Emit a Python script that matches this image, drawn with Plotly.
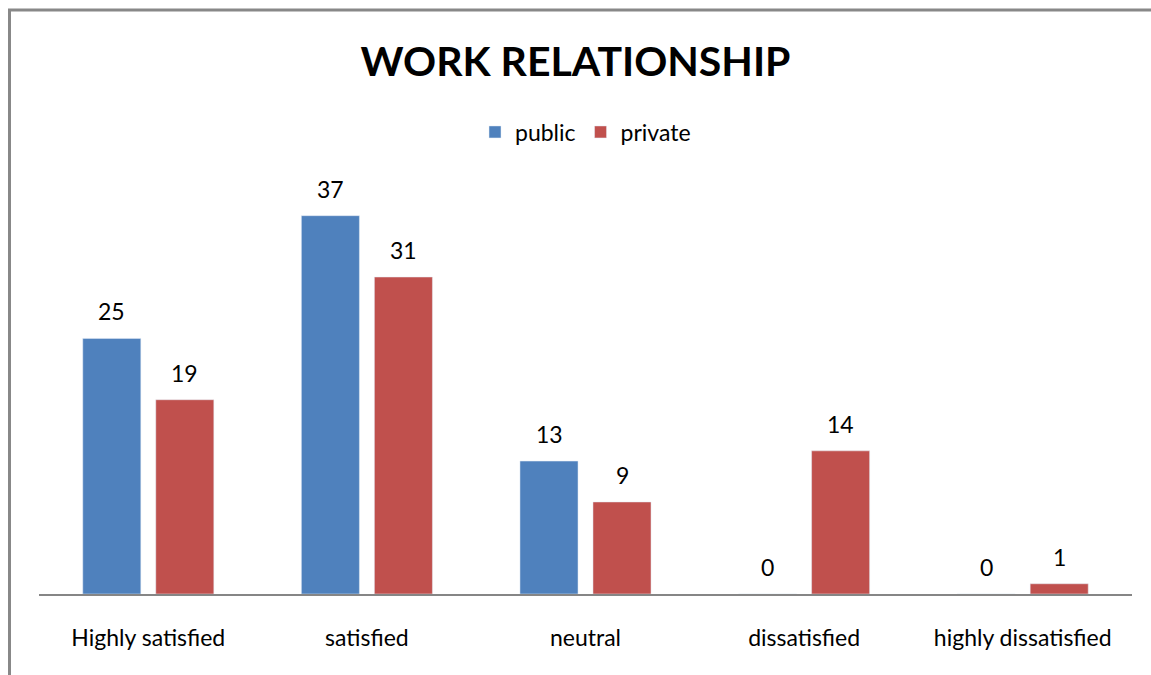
import plotly.graph_objects as go

categories = ["Highly satisfied", "satisfied", "neutral", "dissatisfied", "highly dissatisfied"]
public = [25, 37, 13, 0, 0]
private = [19, 31, 9, 14, 1]

BLUE = "#4F81BD"
RED = "#C0504D"
FONT = "Lato"
TEXT_SIZE = 23

fig = go.Figure()
fig.add_trace(go.Bar(name="public", x=categories, y=public, marker_color=BLUE))
fig.add_trace(go.Bar(name="private", x=categories, y=private, marker_color=RED))

# value labels above each bar (offset to the bar's slot within its group)
annotations = []
for series, shift in ((public, -36.5), (private, 36.5)):
    for cat, val in zip(categories, series):
        annotations.append(dict(
            x=cat, y=val, xref="x", yref="y", text=str(val), showarrow=False,
            xshift=shift, yshift=27, font=dict(family=FONT, size=TEXT_SIZE, color="#000000"),
        ))

fig.update_layout(
    width=1151, height=675,
    margin=dict(l=39, r=19, t=185, b=81),
    paper_bgcolor="white", plot_bgcolor="white",
    barmode="group", bargap=0.332, bargroupgap=0.205,
    title=dict(text="<b>WORK RELATIONSHIP</b>", x=0.5, xanchor="center",
               y=1 - 62 / 675, yanchor="middle",
               font=dict(family=FONT, size=41, color="#000000")),
    legend=dict(orientation="h", x=0.5, xanchor="center", y=(594 - 132) / 409,
                yanchor="middle", font=dict(family=FONT, size=TEXT_SIZE, color="#000000"),
                itemwidth=30, traceorder="normal"),
    annotations=annotations,
    xaxis=dict(showline=True, linecolor="#868686", linewidth=2, ticks="",
               ticklabelstandoff=22, tickfont=dict(family=FONT, size=TEXT_SIZE, color="#000000"),
               showgrid=False, zeroline=False),
    yaxis=dict(range=[0, 40], visible=False, showgrid=False, zeroline=False),
    shapes=[dict(type="rect", xref="paper", yref="paper",
                 x0=(9.5 - 39) / 1093, x1=2, y0=-1, y1=(594 - 10) / 409,
                 line=dict(color="#888888", width=3), fillcolor="rgba(0,0,0,0)")],
    showlegend=True,
)

fig.write_html("out.html")
